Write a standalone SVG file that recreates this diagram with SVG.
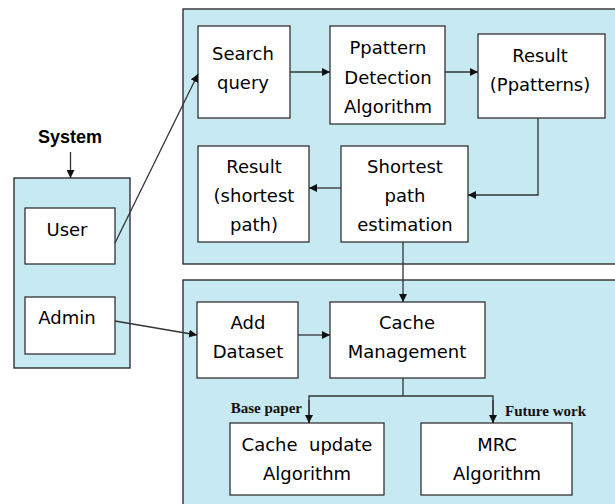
<svg xmlns="http://www.w3.org/2000/svg" width="615" height="504" viewBox="0 0 615 504">
<defs>
<style>
.cont{fill:#C6E9F2;stroke:#222;stroke-width:1.3}
.box{fill:#fff;stroke:#333;stroke-width:1.3}
.t{font-family:"DejaVu Sans",sans-serif;font-size:18px;fill:#000;text-anchor:middle}
.lbl{font-family:"Liberation Serif",serif;font-weight:bold;font-size:15px;fill:#111}
.sys{font-family:"Liberation Sans",Arial,sans-serif;font-weight:bold;font-size:18px;fill:#000;text-anchor:middle}
.c{fill:none;stroke:#333;stroke-width:1.3}
</style>
<marker id="ah" viewBox="0 0 10 10" refX="10" refY="5" markerWidth="8" markerHeight="8" markerUnits="userSpaceOnUse" orient="auto">
<path d="M0,0 L10,5 L0,10 z" fill="#111"/>
</marker>
</defs>
<rect width="615" height="504" fill="#fff"/>
<g id="containers">
<rect id="top-container" class="cont" x="183" y="9" width="440" height="255"/>
<rect id="bottom-container" class="cont" x="183" y="280" width="440" height="230"/>
<rect id="system" class="cont" x="14" y="178" width="116" height="190"/>
</g>
<text class="sys" x="70" y="143">System</text>
<g id="user"><rect class="box" x="25" y="208" width="90" height="56"/><text class="t" x="67" y="236">User</text></g>
<g id="admin"><rect class="box" x="25" y="297" width="90" height="57"/><text class="t" x="67" y="324">Admin</text></g>
<g id="search-query"><rect class="box" x="198" y="26" width="92" height="92"/><text class="t" x="243" y="60">Search</text><text class="t" x="243" y="89">query</text></g>
<g id="ppattern"><rect class="box" x="330" y="26" width="115" height="98"/><text class="t" x="388" y="54">Ppattern</text><text class="t" x="388" y="84">Detection</text><text class="t" x="388" y="113">Algorithm</text></g>
<g id="result-ppatterns"><rect class="box" x="478" y="34" width="127" height="84"/><text class="t" x="540" y="62">Result</text><text class="t" x="540" y="91">(Ppatterns)</text></g>
<g id="result-shortest"><rect class="box" x="198" y="146" width="111" height="96"/><text class="t" x="254" y="173">Result</text><text class="t" x="254" y="202">(shortest</text><text class="t" x="254" y="231">path)</text></g>
<g id="shortest-path"><rect class="box" x="341" y="146" width="127" height="96"/><text class="t" x="405" y="173">Shortest</text><text class="t" x="405" y="202">path</text><text class="t" x="405" y="231">estimation</text></g>
<g id="add-dataset"><rect class="box" x="197" y="302" width="101" height="76"/><text class="t" x="248" y="329">Add</text><text class="t" x="248" y="358">Dataset</text></g>
<g id="cache-management"><rect class="box" x="330" y="302" width="155" height="76"/><text class="t" x="407" y="329">Cache</text><text class="t" x="407" y="358">Management</text></g>
<g id="cache-update"><rect class="box" x="230" y="423" width="154" height="72"/><text class="t" x="307" y="451" xml:space="preserve">Cache  update</text><text class="t" x="307" y="480">Algorithm</text></g>
<g id="mrc"><rect class="box" x="421" y="423" width="151" height="72"/><text class="t" x="497" y="451">MRC</text><text class="t" x="497" y="480">Algorithm</text></g>
<g id="connectors">
<line class="c" x1="70.5" y1="152" x2="70.5" y2="178" marker-end="url(#ah)"/>
<line class="c" x1="115" y1="243" x2="198" y2="74" marker-end="url(#ah)"/>
<line class="c" x1="290" y1="72" x2="330" y2="72" marker-end="url(#ah)"/>
<line class="c" x1="445" y1="72" x2="478" y2="72" marker-end="url(#ah)"/>
<polyline class="c" points="538,118 538,195 468,195" marker-end="url(#ah)"/>
<line class="c" x1="341" y1="188" x2="309" y2="188" marker-end="url(#ah)"/>
<line class="c" x1="403" y1="242" x2="403" y2="302" marker-end="url(#ah)"/>
<line class="c" x1="115" y1="321" x2="197" y2="335" marker-end="url(#ah)"/>
<line class="c" x1="298" y1="335" x2="330" y2="335" marker-end="url(#ah)"/>
<polyline class="c" points="403,378 403,396"/>
<polyline class="c" points="309,423 309,396 493,396 493,423"/>
<line class="c" x1="309" y1="400" x2="309" y2="423" marker-end="url(#ah)"/>
<line class="c" x1="493" y1="400" x2="493" y2="423" marker-end="url(#ah)"/>
<text class="lbl" x="302" y="413" text-anchor="end">Base paper</text>
<text class="lbl" x="505" y="416">Future work</text>
</g>
</svg>
